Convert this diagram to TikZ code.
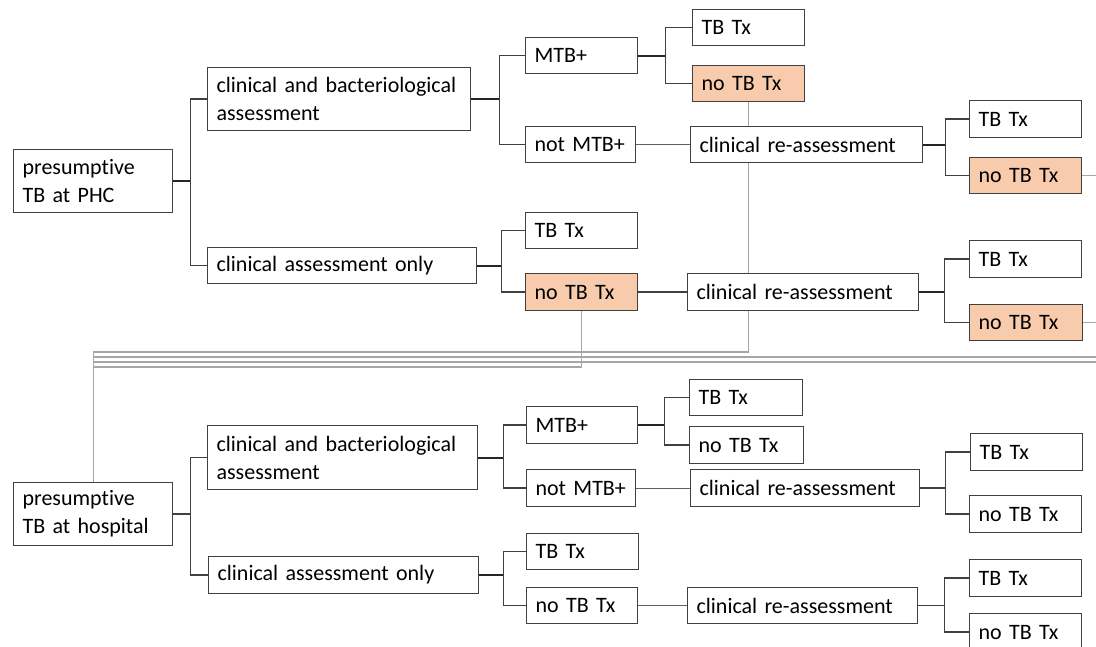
\documentclass[tikz,border=0pt]{standalone}
\usepackage{fontspec}
\setmainfont{Carlito}[Ligatures=NoCommon]
\usetikzlibrary{calc}
\definecolor{bordc}{HTML}{404040}
\definecolor{peach}{HTML}{F8CBAD}
\definecolor{midg}{HTML}{606060}
\definecolor{lightg}{HTML}{A6A6A6}
\begin{document}
\begin{tikzpicture}[x=1pt,y=-1pt,
  box/.style={draw=bordc, line width=1.2pt, fill=white, inner xsep=9pt, inner ysep=0pt,
    align=left, anchor=north west, font=\fontsize{22}{28}\selectfont},
  hl/.style={fill=peach},
  conn/.style={draw=bordc, line width=1.3pt},
  connb/.style={draw=black!85, line width=1.8pt},
  connm/.style={draw=midg, line width=1.2pt},
  lg/.style={draw=lightg, line width=1.2pt}]
\useasboundingbox (0,0) rectangle (1096,646);
\clip (0,0) rectangle (1096,646);
% ---------- top tree ----------
\node[box,text width=141pt,minimum height=63pt] (phc) at (13,149) {presumptive\\TB at PHC};
\node[box,text width=245pt,minimum height=63pt] (cba1) at (207,67) {clinical and bacteriological\\assessment};
\node[box,text width=251pt,minimum height=36pt] (cao1) at (207,247) {clinical assessment only};
\node[box,text width=94pt,minimum height=36pt] (mtb1) at (525,37) {MTB+};
\node[box,text width=92pt,minimum height=36pt] (nmtb1) at (525,126) {not MTB+};
\node[box,text width=94pt,minimum height=36pt] (tx1) at (692,9) {TB Tx};
\node[box,hl,text width=94pt,minimum height=36pt] (ntx1) at (692,65) {no TB Tx};
\node[box,text width=214pt,minimum height=36pt] (cra1) at (690,126) {clinical re-assessment};
\node[box,text width=94pt,minimum height=37pt] (tx1r) at (969,100) {TB Tx};
\node[box,hl,text width=94pt,minimum height=36pt] (ntx1r) at (969,157) {no TB Tx};
\node[box,text width=94pt,minimum height=36pt] (tx2) at (525,212) {TB Tx};
\node[box,hl,text width=94pt,minimum height=37pt] (ntx2) at (525,273) {no TB Tx};
\node[box,text width=213pt,minimum height=37pt] (cra2) at (687,273) {clinical re-assessment};
\node[box,text width=94pt,minimum height=37pt] (tx2r) at (969,240) {TB Tx};
\node[box,hl,text width=95pt,minimum height=36pt] (ntx2r) at (969,304) {no TB Tx};
% ---------- bottom tree ----------
\node[box,text width=141pt,minimum height=63pt] (hosp) at (13,482) {presumptive\\TB at hospital};
\node[box,text width=252pt,minimum height=64pt] (cba2) at (207,425) {clinical and bacteriological\\assessment};
\node[box,text width=252pt,minimum height=37pt] (cao2) at (208,556) {clinical assessment only};
\node[box,text width=93pt,minimum height=37pt] (mtb2) at (526,406) {MTB+};
\node[box,text width=91pt,minimum height=37pt] (nmtb2) at (526,469) {not MTB+};
\node[box,text width=95pt,minimum height=36pt] (tx3) at (689,379) {TB Tx};
\node[box,text width=96pt,minimum height=37pt] (ntx3) at (689,426) {no TB Tx};
\node[box,text width=211pt,minimum height=37pt] (cra3) at (690,469) {clinical re-assessment};
\node[box,text width=94pt,minimum height=37pt] (tx3r) at (970,433) {TB Tx};
\node[box,text width=94pt,minimum height=37pt] (ntx3r) at (969,495) {no TB Tx};
\node[box,text width=94pt,minimum height=36pt] (tx4) at (526,533) {TB Tx};
\node[box,text width=93pt,minimum height=36pt] (ntx4) at (526,587) {no TB Tx};
\node[box,text width=212pt,minimum height=36pt] (cra4) at (687,587) {clinical re-assessment};
\node[box,text width=94pt,minimum height=37pt] (tx4r) at (969,559) {TB Tx};
\node[box,text width=94pt,minimum height=37pt] (ntx4r) at (969,613) {no TB Tx};
% ---------- connectors top ----------
\draw[connb] (phc.east) -- ++(17,0) coordinate (j0);
\draw[conn] (j0) |- (cba1.west);
\draw[conn] (j0) |- (cao1.west);
\draw[connb] (cba1.east) -- ++(28,0) coordinate (j1);
\draw[conn] (j1) |- (mtb1.west);
\draw[conn] (j1) |- (nmtb1.west);
\draw[connb] (cao1.east) -- ++(24,0) coordinate (j2);
\draw[conn] (j2) |- (tx2.west);
\draw[conn] (j2) |- (ntx2.west);
\draw[connb] (mtb1.east) -- ++(27,0) coordinate (j3);
\draw[conn] (j3) |- (tx1.west);
\draw[conn] (j3) |- (ntx1.west);
\draw[connm] (nmtb1.east) -- (cra1.west);
\draw[connb] (cra1.east) -- ++(22,0) coordinate (j4);
\draw[conn] (j4) |- (tx1r.west);
\draw[conn] (j4) |- (ntx1r.west);
\draw[conn] (ntx2.east) -- (cra2.west);
\draw[connb] (cra2.east) -- ++(25,0) coordinate (j5);
\draw[conn] (j5) |- (tx2r.west);
\draw[conn] (j5) |- (ntx2r.west);
% ---------- connectors bottom ----------
\draw[conn] (hosp.east) -- ++(17,0) coordinate (k0);
\draw[conn] (k0) |- (cba2.west);
\draw[conn] (k0) |- (cao2.west);
\draw[connb] (cba2.east) -- ++(25,0) coordinate (k1);
\draw[conn] (k1) |- (mtb2.west);
\draw[conn] (k1) |- (nmtb2.west);
\draw[connb] (cao2.east) -- ++(24,0) coordinate (k2);
\draw[conn] (k2) |- (tx4.west);
\draw[conn] (k2) |- (ntx4.west);
\draw[connb] (mtb2.east) -- ++(26,0) coordinate (k3);
\draw[conn] (k3) |- (tx3.west);
\draw[conn] (k3) |- (ntx3.west);
\draw[connm] (nmtb2.east) -- (cra3.west);
\draw[conn] (cra3.east) -- ++(25,0) coordinate (k4);
\draw[conn] (k4) |- (tx3r.west);
\draw[conn] (k4) |- (ntx3r.west);
\draw[connm] (ntx4.east) -- (cra4.west);
\draw[conn] (cra4.east) -- ++(26,0) coordinate (k5);
\draw[conn] (k5) |- (tx4r.west);
\draw[conn] (k5) |- (ntx4r.west);
% ---------- light grey feedback lines ----------
\coordinate (re1) at (1096,357);
\coordinate (re2) at (1096,362);
\draw[lg] (ntx1.south) -- (ntx1.south |- cra1.north);
\draw[lg] (ntx1.south |- cra1.south) -- (ntx1.south |- cra2.north);
\draw[lg] (ntx1.south |- cra2.south) |- (hosp.north |- 0,352) -- (hosp.north);
\draw[lg] (ntx2.south) |- (hosp.north |- 0,367);
\draw[lg] (hosp.north |- re1) -- (re1);
\draw[lg] (hosp.north |- re2) -- (re2);
\draw[lg] (ntx1r.east) -- (ntx1r.east -| re1);
\draw[lg] (ntx2r.east) -- (ntx2r.east -| re1);
\end{tikzpicture}
\end{document}
